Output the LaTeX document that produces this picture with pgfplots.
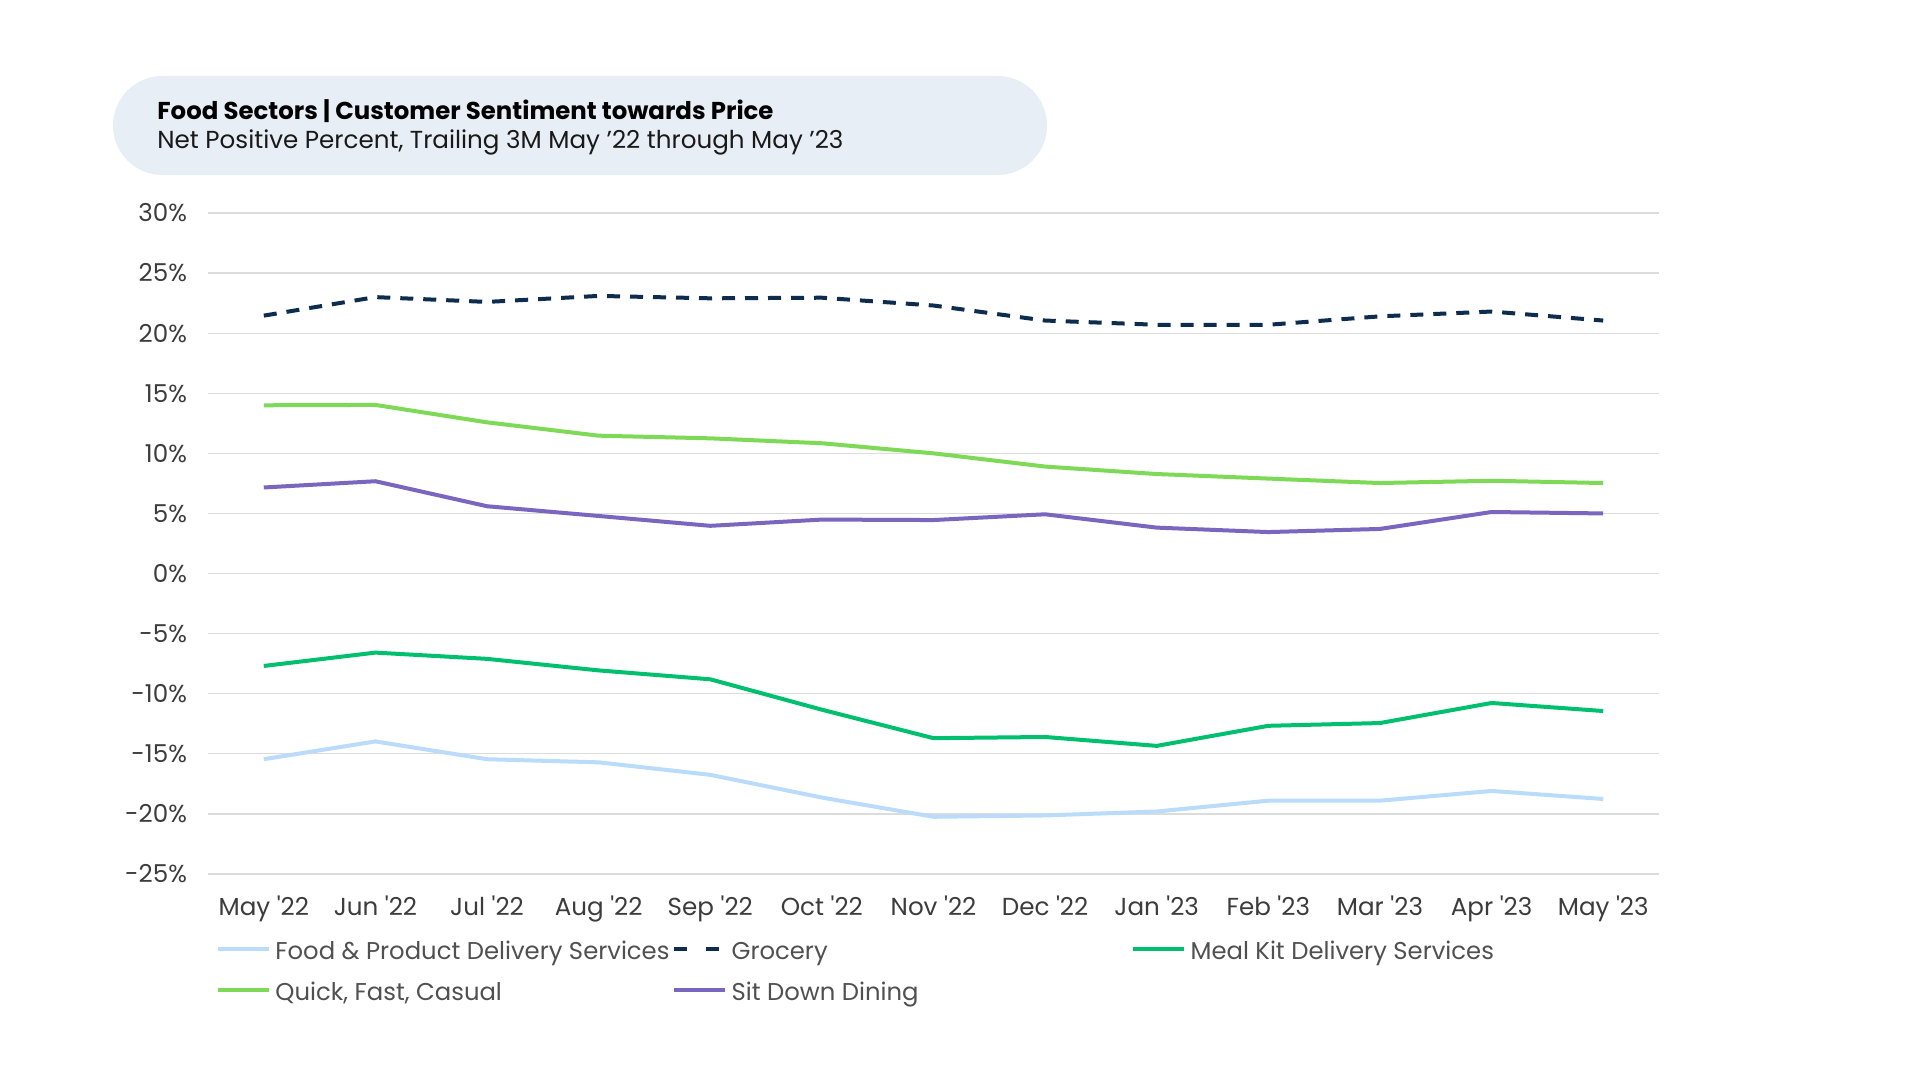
\documentclass[border=0pt]{standalone}
\usepackage{fontspec}
\setmainfont{Poppins}[Ligatures=TeXOff]
\usepackage{pgfplots}
\pgfplotsset{compat=1.18}
\definecolor{cFood}{HTML}{BADCFA}
\definecolor{cGroc}{HTML}{0E2D4E}
\definecolor{cMeal}{HTML}{00BF6F}
\definecolor{cQuick}{HTML}{7ED957}
\definecolor{cSit}{HTML}{7B66BF}
\definecolor{cBox}{HTML}{E8EEF5}
\definecolor{cGrid}{HTML}{DCDCDC}
\definecolor{cTick}{HTML}{3C3C3C}
\definecolor{cLeg}{HTML}{505050}
\begin{document}
\begin{tikzpicture}[x=1pt,y=1pt]
\fill[white] (0,0) rectangle (960,540);
\fill[cBox, rounded corners=24.7pt] (56.5,452.5) rectangle (523.5,502);
\node[anchor=west, inner sep=0pt, font=\fontsize{12.2}{14}\selectfont\bfseries, text=black] at (78.5,484.2) {Food Sectors | Customer Sentiment towards Price};
\node[anchor=west, inner sep=0pt, font=\fontsize{12.3}{14}\selectfont, text=black!90] at (78.5,468.6) {Net Positive Percent, Trailing 3M May ’22 through May ’23};
\begin{axis}[
  at={(104pt,103pt)}, anchor=south west,
  width=725.5pt, height=330.5pt, scale only axis,
  xmin=-0.5, xmax=12.5, ymin=-25, ymax=30,
  xtick={0,...,12},
  xticklabels={May '22,Jun '22,Jul '22,Aug '22,Sep '22,Oct '22,Nov '22,Dec '22,Jan '23,Feb '23,Mar '23,Apr '23,May '23},
  ytick={-25,-20,...,30},
  yticklabels={-25\%,-20\%,-15\%,-10\%,-5\%,0\%,5\%,10\%,15\%,20\%,25\%,30\%},
  axis line style={draw=none},
  major tick length=0pt,
  ymajorgrids,
  grid style={cGrid, line width=0.6pt},
  tick label style={font=\fontsize{12.3}{14}\selectfont, text=cTick},
  yticklabel style={xshift=-7pt},
  xticklabel style={yshift=-7.5pt},
  clip=false,
  legend columns=3,
  legend cell align=left,
  legend style={at={(axis description cs:0,0)}, anchor=north west, xshift=3.8pt, yshift=-34.7pt,
    draw=none, fill=none, inner sep=0pt, row sep=10pt,
    nodes={inner sep=0pt, text height=8pt, text depth=2.5pt, font=\fontsize{12.15}{14}\selectfont, text=cLeg},
    /tikz/every odd column/.append style={column sep=2.2pt}},
  legend image code/.code={\draw[#1, line cap=butt] (0pt,2.75pt) -- (25.5pt,2.75pt);},
  every axis plot/.append style={line width=2pt, line join=round},
]
\addplot[cFood] coordinates {(0,-15.45) (1,-13.97) (2,-15.45) (3,-15.71) (4,-16.75) (5,-18.64) (6,-20.24) (7,-20.13) (8,-19.8) (9,-18.9) (10,-18.9) (11,-18.09) (12,-18.76)};
\addlegendentry{\makebox[198.4pt][l]{Food \& Product Delivery Services}}
\addplot[cGroc, dash pattern=on 6.5pt off 5pt, line cap=butt,
  legend image code/.code={\draw[cGroc, line width=2pt, line cap=butt] (0pt,2.75pt) -- (8.5pt,2.75pt) (16pt,2.75pt) -- (25.5pt,2.75pt);}] coordinates {(0,21.46) (1,23.0) (2,22.6) (3,23.1) (4,22.9) (5,22.95) (6,22.3) (7,21.05) (8,20.7) (9,20.7) (10,21.4) (11,21.8) (12,21.05)};
\addlegendentry{\makebox[199.8pt][l]{Grocery}}
\addplot[cMeal] coordinates {(0,-7.69) (1,-6.58) (2,-7.1) (3,-8.06) (4,-8.8) (5,-11.33) (6,-13.7) (7,-13.6) (8,-14.34) (9,-12.67) (10,-12.44) (11,-10.77) (12,-11.44)};
\addlegendentry{\makebox[198.4pt][l]{Meal Kit Delivery Services}}
\addplot[cQuick] coordinates {(0,14.0) (1,14.03) (2,12.58) (3,11.47) (4,11.25) (5,10.84) (6,10.0) (7,8.9) (8,8.28) (9,7.9) (10,7.53) (11,7.72) (12,7.53)};
\addlegendentry{\makebox[198.4pt][l]{Quick, Fast, Casual}}
\addplot[cSit] coordinates {(0,7.16) (1,7.68) (2,5.6) (3,4.79) (4,3.97) (5,4.49) (6,4.45) (7,4.93) (8,3.82) (9,3.45) (10,3.71) (11,5.12) (12,5.0)};
\addlegendentry{\makebox[199.8pt][l]{Sit Down Dining}}
\end{axis}
\pgfresetboundingbox
\useasboundingbox (0,0) rectangle (960,540);
\end{tikzpicture}
\end{document}
